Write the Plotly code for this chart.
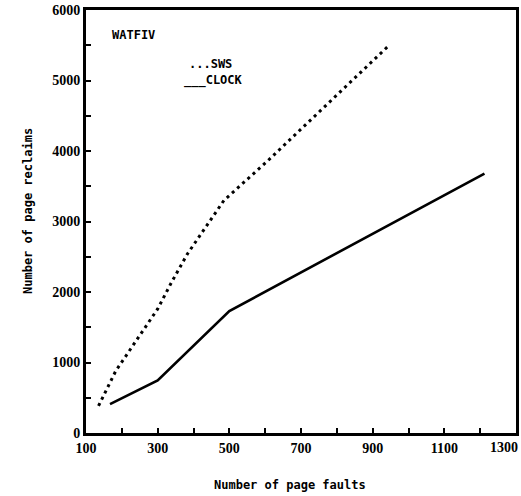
import plotly.graph_objects as go

# Page faults vs. page reclaims for the WATFIV workload
sws_faults = [135, 183, 300, 340, 383, 485, 607, 946]
sws_reclaims = [385, 880, 1760, 2150, 2540, 3300, 3860, 5500]

clock_faults = [167, 300, 500, 1212]
clock_reclaims = [410, 745, 1730, 3680]

x_ticks = [100, 300, 500, 700, 900, 1100, 1300]
y_ticks = [0, 1000, 2000, 3000, 4000, 5000, 6000]

MONO = "DejaVu Sans Mono"
SERIF = "Liberation Serif"

fig = go.Figure()
fig.add_trace(go.Scatter(
    x=sws_faults, y=sws_reclaims, mode="lines", name="SWS",
    line=dict(color="black", width=3, dash="3px,4px"),
))
fig.add_trace(go.Scatter(
    x=clock_faults, y=clock_reclaims, mode="lines", name="CLOCK",
    line=dict(color="black", width=2.6),
))

fig.update_layout(
    width=521, height=496,
    margin=dict(l=86, r=5, t=10, b=63),
    paper_bgcolor="white", plot_bgcolor="white",
    showlegend=False,
    font=dict(family=SERIF, color="black"),
)

tick_font = dict(family=SERIF, size=14, color="black", weight="bold")

# the last x label sits at the right border, so it is drawn right-aligned separately
x_text = [str(v) for v in x_ticks[:-1]] + [""]

fig.update_xaxes(
    range=[100, 1300], tickvals=x_ticks, ticktext=x_text,
    ticks="inside", ticklen=5, tickwidth=2, tickcolor="black",
    minor=dict(dtick=100, tick0=100, ticks="inside", ticklen=5, tickwidth=2, tickcolor="black"),
    showgrid=False, zeroline=False,
    showline=True, linecolor="black", linewidth=3, mirror=True,
    tickfont=tick_font, automargin=False,
)
fig.update_yaxes(
    range=[0, 6000], tickvals=y_ticks, ticktext=[str(v) for v in y_ticks],
    ticks="inside", ticklen=5, tickwidth=2, tickcolor="black",
    minor=dict(dtick=500, tick0=0, ticks="inside", ticklen=5, tickwidth=2, tickcolor="black"),
    showgrid=False, zeroline=False,
    showline=True, linecolor="black", linewidth=3, mirror=True,
    tickfont=tick_font, ticklabelstandoff=0, ticklabeloverflow="allow", automargin=False,
)

fig.add_annotation(x=x_ticks[-1], y=0, xref="x", yref="paper", text=str(x_ticks[-1]),
                   showarrow=False, font=tick_font, xanchor="right", yanchor="top",
                   xshift=4, yshift=-5)

label_font = dict(family=MONO, size=12, color="black", weight="bold")


def px_to_paper(px, py):
    # convert window pixels to paper coordinates of the plot area
    return (px - 86) / 430, (433 - py) / 423


ann = [
    (28, 211, "Number of page reclaims", -90, "center"),
    (290, 485, "Number of page faults", 0, "center"),
    (110, 35, "WATFIV", 0, "left"),
    (187, 64, "...SWS", 0, "left"),
    (182, 80, "___CLOCK", 0, "left"),
]
for px, py, txt, ang, xa in ann:
    x, y = px_to_paper(px, py)
    fig.add_annotation(x=x, y=y, xref="paper", yref="paper", text=txt, textangle=ang,
                       showarrow=False, font=label_font, xanchor=xa, yanchor="middle")

fig.write_html("out.html")
